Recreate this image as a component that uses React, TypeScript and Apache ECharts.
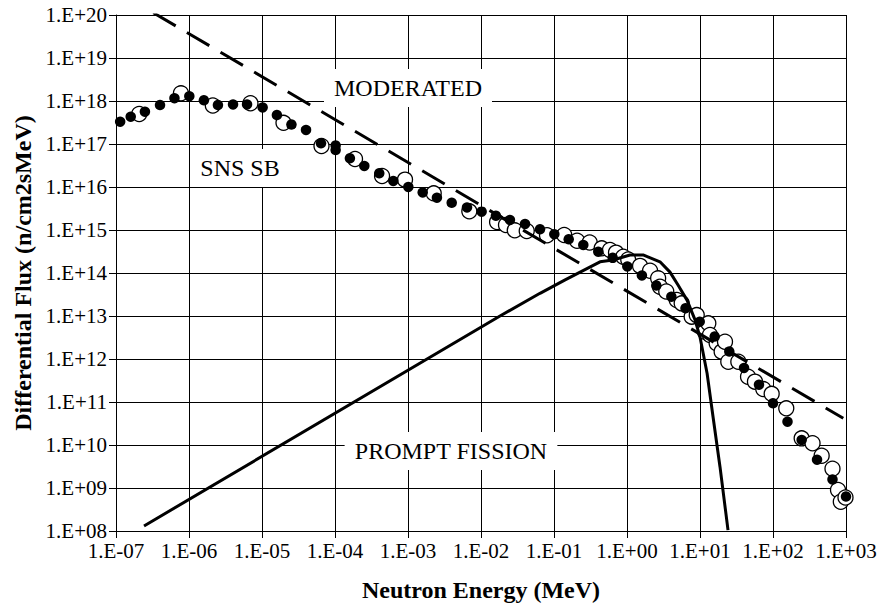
import React, { useEffect, useRef } from "react";
import * as echarts from "echarts";

// ---- Tick labels ----
const xTickLabels = ["1.E-07", "1.E-06", "1.E-05", "1.E-04", "1.E-03", "1.E-02", "1.E-01", "1.E+00", "1.E+01", "1.E+02", "1.E+03"];
const yTickLabels = ["1.E+08", "1.E+09", "1.E+10", "1.E+11", "1.E+12", "1.E+13", "1.E+14", "1.E+15", "1.E+16", "1.E+17", "1.E+18", "1.E+19", "1.E+20"];

// ---- SNS SB (filled dots) ----
const sbFilledE = [1.14e-7, 1.59e-7, 2.49e-7, 4.01e-7, 6.32e-7, 1.01e-6, 1.6e-6, 2.49e-6, 4.01e-6, 6.24e-6, 1.02e-5, 1.6e-5, 2.53e-5, 4.01e-5, 6.43e-5, 1.02e-4, 1.02e-4, 1.6e-4, 2.52e-4, 4.04e-4, 6.29e-4, 1.01e-3, 1.59e-3, 2.49e-3, 3.97e-3, 6.43e-3, 1.02e-2, 1.6e-2, 2.49e-2, 4.01e-2, 6.43e-2, 0.101, 0.159, 0.252, 0.404, 0.637, 1.01, 1.6, 2.52, 4.05, 6.33, 9.91, 15.9, 25.2, 40.1, 64.3, 100, 158, 247, 401, 653, 1000];
const sbFilledFlux = [3.3e17, 4.32e17, 5.64e17, 8.07e17, 1.16e18, 1.29e18, 1.04e18, 8.07e17, 8.3e17, 8.3e17, 7.07e17, 4.72e17, 2.84e17, 2.12e17, 1.04e17, 9.22e16, 7.24e16, 4.65e16, 3.08e16, 2.08e16, 1.38e16, 1.0e16, 7.45e15, 5.64e15, 4.29e15, 3.34e15, 2.67e15, 2.14e15, 1.71e15, 1.38e15, 1.04e15, 7.98e14, 6.08e14, 4.48e14, 3.13e14, 2.25e14, 1.42e14, 8.75e13, 5.12e13, 2.81e13, 1.51e13, 7.36e12, 3.33e12, 1.49e12, 6.18e11, 2.52e11, 9.33e10, 3.48e10, 1.31e10, 4.55e9, 1.58e9, 6.34e8];

// ---- SNS SB (open circles) ----
const sbOpenE = [2.08e-7, 7.76e-7, 2.12e-6, 6.95e-6, 1.97e-5, 6.53e-5, 1.88e-4, 4.41e-4, 9.1e-4, 2.25e-3, 6.92e-3, 1.66e-2, 2.2e-2, 2.9e-2, 4.23e-2, 8.02e-2, 0.138, 0.207, 0.308, 0.45, 0.585, 0.707, 0.889, 1.04, 1.51, 2.07, 2.67, 2.83, 3.45, 4.8, 5.61, 7.69, 9.02, 11.7, 13.0, 13.7, 16.9, 19.8, 22.0, 24.4, 33.5, 45.5, 56.6, 73.6, 95.9, 152, 247, 348, 464, 653, 777, 849, 984];
const sbOpenFlux = [4.99e17, 1.51e18, 7.85e17, 8.85e17, 3.11e17, 8.98e16, 4.48e16, 1.8e16, 1.48e16, 7.13e15, 2.72e15, 1.53e15, 1.31e15, 9.84e14, 9.48e14, 7.54e14, 7.66e14, 5.61e14, 5.12e14, 3.75e14, 3.43e14, 2.97e14, 2.39e14, 2.06e14, 1.46e14, 1.13e14, 7.53e13, 4.8e13, 3.72e13, 2.36e13, 1.97e13, 9.64e12, 1.05e13, 4.31e12, 6.76e12, 3.61e12, 2.32e12, 1.48e12, 2.52e12, 8.65e11, 8.65e11, 3.87e11, 2.97e11, 2.0e11, 1.55e11, 7.13e10, 1.43e10, 1.1e10, 5.61e9, 2.8e9, 8.97e8, 4.8e8, 6.01e8];

// ---- Prompt fission spectrum ----
const promptE = [2.42e-7, 1.82e-2, 0.0643, 0.142, 0.427, 0.643, 1.1, 1.66, 2.83, 3.88, 5.0, 6.64, 8.55, 10.0, 12.5, 15.1, 18.8, 24.2];
const promptFlux = [1.31e8, 1.0e13, 3.37e13, 6.92e13, 1.82e14, 2.0e14, 2.63e14, 2.63e14, 1.82e14, 1.05e14, 5.25e13, 2.34e13, 8.13e12, 3.24e12, 4.68e11, 4.47e10, 3.09e9, 1.05e8];

// ---- Moderated (1/E) ----
const moderatedE = [3.24e-7, 918];
const moderatedFlux = [1.13e20, 4.18e10];

// ---- Annotations ----
const annotationTexts = ["MODERATED", "SNS SB", "PROMPT FISSION"];
const annotationE = [1.0e-3, 5.0e-6, 3.88e-3];
const annotationFlux = [2.0e18, 2.77e16, 7.24e9];

const FONT = "Liberation Serif";

const pairs = (xs: number[], ys: number[]) => xs.map((x, i) => [x, ys[i]]);

export default function App() {
  const ref = useRef<HTMLDivElement>(null);

  useEffect(() => {
    if (!ref.current) return;
    const chart = echarts.init(ref.current, undefined, { renderer: "svg" });

    const xFmt = (v: number) => {
      const e = Math.round(Math.log10(v));
      return xTickLabels[e + 7] ?? "";
    };
    const yFmt = (v: number) => {
      const e = Math.round(Math.log10(v));
      return yTickLabels[e - 8] ?? "";
    };

    const axisCommon = {
      type: "log" as const,
      logBase: 10,
      interval: 1,
      nameLocation: "middle" as const,
      nameTextStyle: { fontFamily: FONT, fontWeight: "bold" as const, fontSize: 24, color: "#000" },
      axisLine: { show: true, onZero: false, lineStyle: { color: "#000", width: 1 } },
      axisTick: { show: true, inside: false, length: 7, interval: 0, lineStyle: { color: "#000", width: 1 } },
      splitLine: { show: true, interval: 0, lineStyle: { color: "#000", width: 1 } },
      minorTick: { show: false },
      minorSplitLine: { show: false },
    };

    chart.setOption({
      animation: false,
      backgroundColor: "#fff",
      textStyle: { fontFamily: FONT, color: "#000" },
      grid: { left: 116, right: 36, top: 15, bottom: 79, containLabel: false, outerBoundsMode: "none" },
      xAxis: {
        ...axisCommon,
        min: 1e-7,
        max: 1e3,
        name: "Neutron Energy (MeV)",
        nameGap: 47,
        axisLabel: {
          formatter: xFmt,
          fontFamily: FONT,
          fontSize: 21,
          color: "#000",
          margin: 9,
          showMinLabel: true,
          showMaxLabel: true,
          hideOverlap: false,
          interval: 0,
        },
      },
      yAxis: {
        ...axisCommon,
        min: 1e8,
        max: 1e20,
        name: "Differential Flux (n/cm2sMeV)",
        nameGap: 80,
        axisLabel: {
          formatter: yFmt,
          fontFamily: FONT,
          fontSize: 21,
          color: "#000",
          margin: 9,
          showMinLabel: true,
          showMaxLabel: true,
          hideOverlap: false,
          interval: 0,
        },
      },
      series: [
        {
          name: "SNS SB open",
          type: "scatter",
          z: 2,
          symbol: "circle",
          symbolSize: 15,
          itemStyle: { color: "#fff", borderColor: "#000", borderWidth: 1.3, opacity: 1 },
          data: pairs(sbOpenE, sbOpenFlux),
        },
        {
          name: "SNS SB",
          type: "scatter",
          z: 3,
          symbol: "circle",
          symbolSize: 10.5,
          itemStyle: { color: "#000", opacity: 1 },
          data: pairs(sbFilledE, sbFilledFlux),
        },
        {
          name: "PROMPT FISSION",
          type: "line",
          z: 4,
          symbol: "none",
          smooth: false,
          lineStyle: { color: "#000", width: 3 },
          data: pairs(promptE, promptFlux),
        },
        {
          name: "MODERATED",
          type: "line",
          z: 4,
          symbol: "none",
          lineStyle: { color: "#000", width: 3, type: [26, 13], cap: "butt" },
          data: pairs(moderatedE, moderatedFlux),
        },
        {
          name: "annotations",
          type: "scatter",
          z: 5,
          symbol: "circle",
          symbolSize: 1,
          itemStyle: { color: "rgba(255,255,255,0)", opacity: 1 },
          silent: true,
          label: {
            show: true,
            position: "inside",
            formatter: (p: any) => p.name,
            fontFamily: FONT,
            fontSize: 24,
            color: "#000",
            opacity: 1,
            textBorderWidth: 0,
            backgroundColor: "#fff",
            padding: [7, 10, 7, 10],
          },
          data: annotationTexts.map((t, i) => ({ name: t, value: [annotationE[i], annotationFlux[i]] })),
        },
      ],
    });

    return () => chart.dispose();
  }, []);

  return (
    <div
      ref={ref}
      style={{ position: "absolute", left: 0, top: 0, width: 882, height: 610, background: "#fff" }}
    />
  );
}
